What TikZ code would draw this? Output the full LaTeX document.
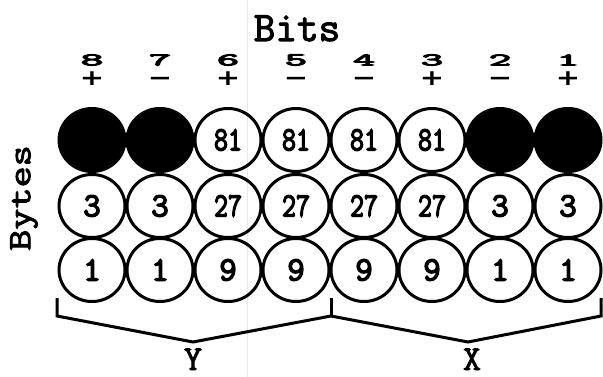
\documentclass[tikz,border=0pt]{standalone}
\usepackage{fontspec}
\newfontfamily\cour{Latin Modern Mono}[FakeBold=2.5]
\newfontfamily\courmid{Latin Modern Mono}[FakeBold=4]
\newfontfamily\courlab{Latin Modern Mono}[FakeBold=5]
\newfontfamily\signfont{DejaVu Sans}
\usetikzlibrary{shapes.geometric}
\begin{document}
\begin{tikzpicture}[x=1pt,y=-1pt,
  cell/.style={ellipse,draw=black,line width=3pt,minimum width=66pt,minimum height=63pt,inner sep=0pt,
    font=\courmid\fontsize{34}{34}\selectfont},
  blackcell/.style={cell,fill=black},
  bitnum/.style={inner sep=0pt,font=\courlab\fontsize{20}{20}\selectfont},
  bitsign/.style={inner sep=0pt,font=\signfont\bfseries\fontsize{20}{20}\selectfont},
  bigtitle/.style={inner sep=0pt,anchor=base,font=\cour\fontsize{42}{42}\selectfont},
  brace/.style={line width=3pt,line join=miter}]
\useasboundingbox (0,0) rectangle (603,377);
\fill[white] (0,0) rectangle (603,377);
\draw[gray!18,line width=0.8pt] (247,0) -- (247,377);

% titles
\node[bigtitle] (bits) at (297,41) {Bits};
\node[inner sep=0pt,rotate=90,font=\cour\fontsize{41}{41}\selectfont] (bytes) at (24,198) {\scalebox{1}[0.8]{Bytes}};

% bit numbers and signs
\foreach \n/\s/\i in {8/+/0,7/−/1,6/+/2,5/−/3,4/−/4,3/+/5,2/−/6,1/+/7}{
  \node[bitnum] (num\n) at (92+68*\i,60) {\resizebox{22pt}{11pt}{\n}};
  \node[bitsign] (sgn\n) at (92+68*\i,79) {\scalebox{1.45}[1.1]{\vphantom{+}\s}};
}

% row 1
\node[blackcell] (r1c8) at (92,140) {};
\node[blackcell] (r1c7) at (160,140) {};
\node[cell] (r1c6) at (228,140) {\scalebox{0.8}[1]{81}};
\node[cell] (r1c5) at (296,140) {\scalebox{0.8}[1]{81}};
\node[cell] (r1c4) at (364,140) {\scalebox{0.8}[1]{81}};
\node[cell] (r1c3) at (432,140) {\scalebox{0.8}[1]{81}};
\node[blackcell] (r1c2) at (500,140) {};
\node[blackcell] (r1c1) at (568,140) {};

% row 2
\node[cell] (r2c8) at (92,206) {3};
\node[cell] (r2c7) at (160,206) {3};
\node[cell] (r2c6) at (228,206) {\scalebox{0.8}[1]{27}};
\node[cell] (r2c5) at (296,206) {\scalebox{0.8}[1]{27}};
\node[cell] (r2c4) at (364,206) {\scalebox{0.8}[1]{27}};
\node[cell] (r2c3) at (432,206) {\scalebox{0.8}[1]{27}};
\node[cell] (r2c2) at (500,206) {3};
\node[cell] (r2c1) at (568,206) {3};

% row 3
\node[cell] (r3c8) at (92,270) {1};
\node[cell] (r3c7) at (160,270) {1};
\node[cell] (r3c6) at (228,270) {9};
\node[cell] (r3c5) at (296,270) {9};
\node[cell] (r3c4) at (364,270) {9};
\node[cell] (r3c3) at (432,270) {9};
\node[cell] (r3c2) at (500,270) {1};
\node[cell] (r3c1) at (568,270) {1};

% braces
\coordinate (bl0) at (57,298);
\coordinate (bl1) at (57,316);
\coordinate (ya) at (193,342);
\coordinate (bm0) at (331,298);
\coordinate (bm1) at (331,316);
\coordinate (xa) at (468,342);
\coordinate (br1) at (601,316);
\coordinate (br0) at (601,298);
\draw[brace] (bl0) -- (bl1) -- (ya) -- (bm1) -- (xa) -- (br1) -- (br0);
\draw[brace] (bm0) -- (bm1);

\node[bigtitle,font=\cour\fontsize{35}{35}\selectfont] (ylab) at (193,370) {Y};
\node[bigtitle,font=\cour\fontsize{35}{35}\selectfont] (xlab) at (472,370) {X};
\end{tikzpicture}
\end{document}
